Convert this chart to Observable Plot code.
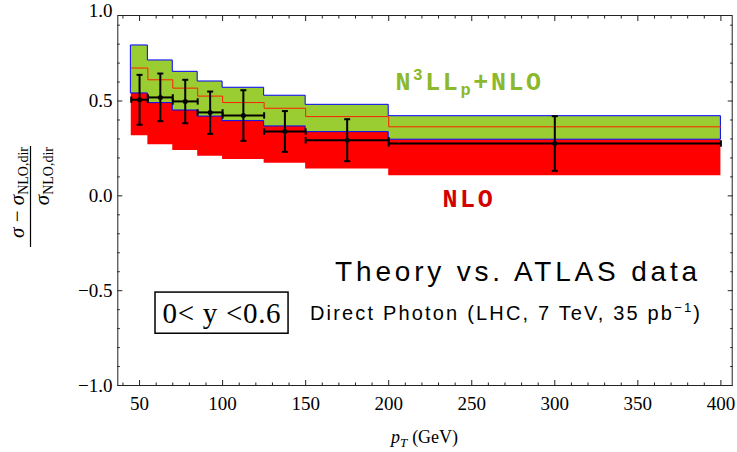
<!DOCTYPE html>
<html><head><meta charset="utf-8">
<script src="https://cdn.jsdelivr.net/npm/d3@7"></script>
<script src="https://cdn.jsdelivr.net/npm/@observablehq/plot@0.6"></script>
<style>body{margin:0;background:#fff} #chart{width:737px;height:452px}</style>
</head><body><div id="chart"></div>
<script>
// ---- data ----
const binEdges   = [45, 55, 70, 85, 100, 125, 150, 200, 400];
const n3llHi     = [0.793, 0.714, 0.654, 0.603, 0.570, 0.528, 0.480, 0.420];
const n3llMid    = [0.674, 0.612, 0.568, 0.526, 0.492, 0.462, 0.418, 0.364];
const n3llLo     = [0.540, 0.489, 0.450, 0.418, 0.394, 0.366, 0.336, 0.296];
const nloHi      = [0.540, 0.489, 0.450, 0.418, 0.394, 0.366, 0.336, 0.296];
const nloLo      = [0.317, 0.269, 0.239, 0.209, 0.192, 0.172, 0.142, 0.106];
const dataPt     = [50, 62.5, 77.5, 92.5, 112.5, 137.5, 175, 300];
const dataVal    = [0.507, 0.519, 0.498, 0.440, 0.424, 0.339, 0.293, 0.276];
const dataErrHi  = [0.638, 0.645, 0.612, 0.550, 0.557, 0.447, 0.404, 0.420];
const dataErrLo  = [0.375, 0.394, 0.383, 0.327, 0.290, 0.232, 0.183, 0.132];
const xMajorTicks = [50, 100, 150, 200, 250, 300, 350, 400];
const xMinorTicks = [40, 60, 70, 80, 90, 110, 120, 130, 140, 160, 170, 180, 190, 210, 220, 230, 240, 260, 270, 280, 290, 310, 320, 330, 340, 360, 370, 380, 390];
const yMajorTicks = [-1, -0.5, 0, 0.5, 1];
const yMinorTicks = [-0.9, -0.8, -0.7, -0.6, -0.4, -0.3, -0.2, -0.1, 0.1, 0.2, 0.3, 0.4, 0.6, 0.7, 0.8, 0.9];
const labelN3LL = ["N", "3", "LL", "p", "+NLO"];
const labelNLO = "NLO";
const titleText = "Theory vs. ATLAS data";
const subtitleText = ["Direct Photon (LHC, 7 TeV, 35 pb", "\u22121", ")"];
const boxText = "0< y <0.6";

// annotation anchors in data units
const yTop = 0.951;
const annN3LL = {x: 249, y: 0.556};
const annNLO = {x: 248.6, y: -0.062};
const annTitle = {x: 277, y: -0.452};
const annSub = {x: 270.3, y: -0.658};
const annBox = {x1: 59.6, x2: 139.7, y1: -0.727, y2: -0.510, tx: 99.7, ty: -0.672};

// ---- derived tables ----
const nb = binEdges.length - 1;
const bandPts = binEdges.map((e, i) => {
  const j = Math.min(i, nb - 1);
  return {x: e, hi: n3llHi[j], mid: n3llMid[j], lo: n3llLo[j], nHi: nloHi[j], nLo: nloLo[j]};
});
const pts = dataPt.map((x, i) => ({x, y: dataVal[i], hi: dataErrHi[i], lo: dataErrLo[i], x1: binEdges[i], x2: binEdges[i + 1]}));

const hCap = {draw(c, size) { const r = Math.sqrt(size / Math.PI); c.moveTo(-r, 0); c.lineTo(r, 0); }};
const vCap = {draw(c, size) { const r = Math.sqrt(size / Math.PI); c.moveTo(0, -r); c.lineTo(0, r); }};
const fmtY = d => (d < 0 ? "\u2212" : "") + Math.abs(d).toFixed(1);
const inY = yMajorTicks.filter(d => d < yTop);
const outY = yMajorTicks.filter(d => d >= yTop);

const plot = Plot.plot({
  width: 737, height: 452,
  marginLeft: 117.3, marginRight: 5.3, marginTop: 15, marginBottom: 67,
  x: {domain: [36.9, 406.8], label: null},
  y: {domain: [-1, yTop], label: null},
  style: {fontFamily: "Liberation Serif", fontSize: "19px", background: "white", color: "black"},
  marks: [
    Plot.areaY(bandPts, {x: "x", y1: "nLo", y2: "nHi", curve: "step-after", fill: "#ff0000"}),
    Plot.areaY(bandPts, {x: "x", y1: "lo", y2: "hi", curve: "step-after", fill: "#9acd32", stroke: "#0000ff", strokeWidth: 1}),
    Plot.line(bandPts, {x: "x", y: "mid", curve: "step-after", stroke: "#ff2000", strokeWidth: 1}),
    Plot.ruleY(pts, {x1: "x1", x2: "x2", y: "y", stroke: "black", strokeWidth: 2}),
    Plot.ruleX(pts, {x: "x", y1: "lo", y2: "hi", stroke: "black", strokeWidth: 2}),
    Plot.dot(pts, {x: "x", y: "hi", symbol: hCap, r: 3, fill: "none", stroke: "black", strokeWidth: 2}),
    Plot.dot(pts, {x: "x", y: "lo", symbol: hCap, r: 3, fill: "none", stroke: "black", strokeWidth: 2}),
    Plot.dot(pts, {x: "x1", y: "y", symbol: vCap, r: 3.2, fill: "none", stroke: "black", strokeWidth: 2}),
    Plot.dot(pts, {x: "x2", y: "y", symbol: vCap, r: 3.2, fill: "none", stroke: "black", strokeWidth: 2}),
    Plot.dot(pts, {x: "x", y: "y", r: 2.5, fill: "black"}),
    Plot.frame({stroke: "#222", strokeWidth: 1}),
    // tick labels
    Plot.axisX({ticks: xMajorTicks, anchor: "bottom", tickSize: 0, tickPadding: 11, tickFormat: d => String(d), label: null}),
    Plot.axisY({ticks: inY, anchor: "left", tickSize: 0, tickPadding: 5.3, tickFormat: fmtY, label: null}),
    Plot.axisY({ticks: outY, anchor: "left", tickSize: 0, tickPadding: 5.3, tickFormat: fmtY, label: null, dy: 5}),
    // inward ticks on all four sides
    Plot.axisX({ticks: xMajorTicks, anchor: "bottom", tickSize: -5, fill: "none", label: null, stroke: "#222"}),
    Plot.axisX({ticks: xMinorTicks, anchor: "bottom", tickSize: -2.5, fill: "none", label: null, stroke: "#222"}),
    Plot.axisX({ticks: xMajorTicks, anchor: "top", tickSize: -5, fill: "none", label: null, stroke: "#222"}),
    Plot.axisX({ticks: xMinorTicks, anchor: "top", tickSize: -2.5, fill: "none", label: null, stroke: "#222"}),
    Plot.axisY({ticks: inY, anchor: "left", tickSize: -5, fill: "none", label: null, stroke: "#222"}),
    Plot.axisY({ticks: yMinorTicks, anchor: "left", tickSize: -2.5, fill: "none", label: null, stroke: "#222"}),
    Plot.axisY({ticks: inY, anchor: "right", tickSize: -5, fill: "none", label: null, stroke: "#222"}),
    Plot.axisY({ticks: yMinorTicks, anchor: "right", tickSize: -2.5, fill: "none", label: null, stroke: "#222"})
  ]
});
document.getElementById("chart").appendChild(plot);

// ---- annotations ----
const sx = plot.scale("x"), sy = plot.scale("y");
const X = v => sx.apply(v), Y = v => sy.apply(v);
const svg = d3.select(plot);

// N3LLp+NLO
{
  const t = svg.append("text").attr("x", X(annN3LL.x)).attr("y", Y(annN3LL.y))
    .attr("text-anchor", "middle").attr("font-family", "Liberation Mono").attr("font-weight", "bold")
    .attr("font-size", 25).attr("letter-spacing", 2.6).attr("fill", "#8cb82b");
  t.append("tspan").text(labelN3LL[0]);
  t.append("tspan").attr("font-size", 16).attr("dy", -10).text(labelN3LL[1]);
  t.append("tspan").attr("dy", 10).text(labelN3LL[2]);
  t.append("tspan").attr("font-size", 17).attr("dy", 5).text(labelN3LL[3]);
  t.append("tspan").attr("dy", -5).text(labelN3LL[4]);
}
svg.append("text").attr("x", X(annNLO.x)).attr("y", Y(annNLO.y))
  .attr("text-anchor", "middle").attr("font-family", "Liberation Mono").attr("font-weight", "bold")
  .attr("font-size", 25).attr("letter-spacing", 2.6).attr("fill", "#d40000").text(labelNLO);

svg.append("text").attr("x", X(annTitle.x)).attr("y", Y(annTitle.y))
  .attr("text-anchor", "middle").attr("font-family", "Liberation Sans").attr("font-size", 28)
  .attr("textLength", 362).attr("lengthAdjust", "spacing").attr("fill", "black").text(titleText);
{
  const t = svg.append("text").attr("x", X(annSub.x)).attr("y", Y(annSub.y))
    .attr("text-anchor", "middle").attr("font-family", "Liberation Sans").attr("font-size", 20)
    .attr("textLength", 390).attr("lengthAdjust", "spacing").attr("fill", "black");
  t.append("tspan").text(subtitleText[0]);
  t.append("tspan").attr("font-size", 13).attr("dy", -8).text(subtitleText[1]);
  t.append("tspan").attr("dy", 8).text(subtitleText[2]);
}
svg.append("rect").attr("x", X(annBox.x1)).attr("y", Y(annBox.y2))
  .attr("width", X(annBox.x2) - X(annBox.x1)).attr("height", Y(annBox.y1) - Y(annBox.y2))
  .attr("fill", "white").attr("stroke", "black").attr("stroke-width", 1.5);
svg.append("text").attr("x", X(annBox.tx)).attr("y", Y(annBox.ty))
  .attr("text-anchor", "middle").attr("font-family", "Liberation Serif").attr("font-size", 29)
  .attr("textLength", 118).attr("lengthAdjust", "spacing").attr("fill", "black").text(boxText);

// x axis title
{
  const t = svg.append("text").attr("x", (117.3 + 731.7) / 2).attr("y", 443)
    .attr("text-anchor", "middle").attr("font-family", "Liberation Serif").attr("font-size", 18).attr("fill", "black");
  t.append("tspan").attr("font-style", "italic").text("p");
  t.append("tspan").attr("font-style", "italic").attr("font-size", 13).attr("dy", 4).text("T");
  t.append("tspan").attr("dy", -4).attr("dx", 5).text("(GeV)");
}
// y axis title (fraction)
{
  const g = svg.append("g").attr("transform", "translate(30.5,197) rotate(-90)")
    .attr("font-family", "Liberation Serif").attr("fill", "black");
  const num = g.append("text").attr("x", 50).attr("y", -6.5).attr("text-anchor", "end").attr("font-size", 21);
  num.append("tspan").attr("font-style", "italic").text("\u03c3");
  num.append("tspan").text(" \u2212 ");
  num.append("tspan").attr("font-style", "italic").text("\u03c3");
  num.append("tspan").attr("font-size", 14).attr("dy", 4).text("NLO,dir");
  g.append("line").attr("x1", -50).attr("x2", 51).attr("y1", 0).attr("y2", 0).attr("stroke", "black").attr("stroke-width", 1.2);
  const den = g.append("text").attr("x", 50).attr("y", 18.5).attr("text-anchor", "end").attr("font-size", 21);
  den.append("tspan").attr("font-style", "italic").text("\u03c3");
  den.append("tspan").attr("font-size", 14).attr("dy", 4).text("NLO,dir");
}
</script>
</body></html>
